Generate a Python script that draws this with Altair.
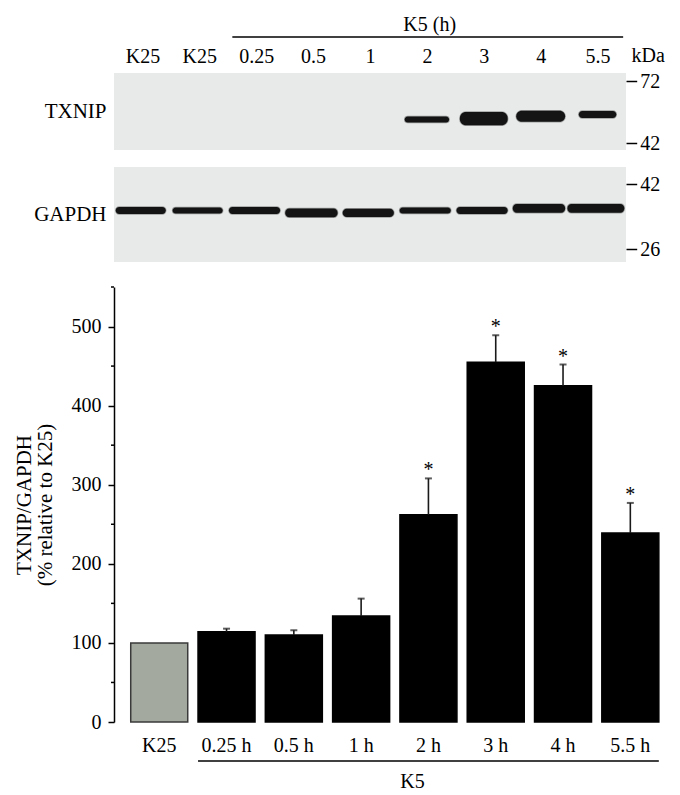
import json
import altair as alt
import pandas as pd

FONT = "Liberation Serif"

# ---------------- bar chart data ----------------
categories = ["K25", "0.25 h", "0.5 h", "1 h", "2 h", "3 h", "4 h", "5.5 h"]
groups = ["K25", "K5", "K5", "K5", "K5", "K5", "K5", "K5"]
means = [100, 114, 110, 134, 262, 455, 425, 239]
errors = [0, 4, 6, 22, 46, 34, 27, 38]
significant = [False, False, False, False, True, True, True, True]
y_ticks = [0, 100, 200, 300, 400, 500]
y_minor = [50, 150, 250, 350, 450, 550]

# ---------------- western blot data ----------------
lane_labels = ["K25", "K25", "0.25", "0.5", "1", "2", "3", "4", "5.5"]
txnip_markers = [72, 55, 42]
gapdh_markers = [42, 26]
txnip_lanes = [5, 6, 7, 8]
txnip_kda = [50.1, 50.4, 51.2, 51.8]
txnip_spread = [2.1, 4.5, 3.8, 2.4]
txnip_width = [0.78, 0.84, 0.86, 0.66]
gapdh_lanes = [0, 1, 2, 3, 4, 5, 6, 7, 8]
gapdh_kda = [35.6, 35.6, 35.6, 35.0, 35.0, 35.6, 35.6, 36.1, 36.1]
gapdh_spread = [1.7, 1.5, 1.7, 2.2, 2.0, 1.5, 1.7, 2.2, 2.2]
gapdh_width = [0.88, 0.88, 0.9, 0.92, 0.9, 0.9, 0.9, 0.92, 1.0]

W_BLOT = 512
H_TX = 77
H_GA = 105
W_BAR = 552
H_BAR = 435

PANEL = "#e7eae8"
BAND = "#141414"

xs = alt.Scale(domain=[0, 9], nice=False, zero=False)


def lane_axis():
    return alt.Axis(orient="top", values=[i + 0.5 for i in range(len(lane_labels))],
                    labelExpr=f"{json.dumps(lane_labels)}[floor(datum.value)]",
                    ticks=False, tickSize=0, domain=False, grid=False,
                    labelFont=FONT, labelFontSize=20, labelColor="black",
                    labelBaseline="middle", labelPadding=17,
                    labelFlush=False, labelOverlap=False, title="")


def marker_axis(values, name, h):
    return alt.Axis(orient="right", values=values, tickSize=10.7, tickWidth=1.5,
                    tickColor="black", domain=False, grid=False,
                    labelFont=FONT, labelFontSize=20, labelColor="black",
                    labelPadding=3, labelBaseline="middle", labelFlush=False,
                    labelOverlap=False,
                    title=name, titleAngle=0, titleAlign="right", titleBaseline="middle",
                    titleX=-(W_BLOT + 8), titleY=h / 2, titleFont=FONT,
                    titleFontSize=21, titleFontWeight="normal", titleColor="black")


# ---------- TXNIP blot ----------
tx_ys = alt.Scale(domain=[77.9, 72, 55, 42, 39.7], range=[0, 8.3, 32.3, 70, H_TX],
                  zero=False, nice=False)
tx_panel_df = pd.DataFrame({"x0": [0], "x1": [9], "top": [77.9], "bot": [39.7]})
tx_panel = alt.Chart(tx_panel_df).mark_rect(fill=PANEL).encode(
    x=alt.X("x0:Q", scale=xs, axis=lane_axis()),
    x2="x1:Q",
    y=alt.Y("top:Q", scale=tx_ys, axis=marker_axis(txnip_markers, "TXNIP", H_TX)),
    y2="bot:Q",
)
tx_df = pd.DataFrame({"lane": txnip_lanes, "kda": txnip_kda,
                      "spread": txnip_spread, "width": txnip_width})
tx_bands = alt.Chart(tx_df).transform_calculate(
    bx0="datum.lane + 0.5 - datum.width / 2", bx1="datum.lane + 0.5 + datum.width / 2",
    by0="datum.kda + datum.spread / 2", by1="datum.kda - datum.spread / 2",
).mark_rect(fill=BAND, stroke=BAND, strokeWidth=1.5, strokeOpacity=0.35,
            cornerRadius=6).encode(x="bx0:Q", x2="bx1:Q", y="by0:Q", y2="by1:Q")

hdr_text = alt.Chart(pd.DataFrame({"t": ["K5 (h)"]})).mark_text(
    font=FONT, fontSize=20, color="black", baseline="middle").encode(
    x=alt.datum(5.55), y=alt.value(-48.4), text="t:N")
hdr_rule = alt.Chart(pd.DataFrame({"t": [1]})).mark_rule(
    color="black", strokeWidth=1.5).encode(
    x=alt.datum(2.08), x2=alt.datum(8.95), y=alt.value(-36))
kda_text = alt.Chart(pd.DataFrame({"t": ["kDa"]})).mark_text(
    font=FONT, fontSize=20, color="black", baseline="middle").encode(
    x=alt.datum(9.39), y=alt.value(-16.7), text="t:N")

txnip_chart = alt.layer(tx_panel, tx_bands, hdr_rule, hdr_text, kda_text).properties(
    width=W_BLOT, height=H_TX)

# ---------- GAPDH blot ----------
ga_ys = alt.Scale(domain=[20.43, 46.3], zero=False, nice=False)
ga_panel_df = pd.DataFrame({"x0": [0], "x1": [9], "top": [46.3], "bot": [22.9]})
ga_panel = alt.Chart(ga_panel_df).mark_rect(fill=PANEL).encode(
    x=alt.X("x0:Q", scale=xs, axis=alt.Axis(labels=False, ticks=False, domain=False,
                                             grid=False, title="")),
    x2="x1:Q",
    y=alt.Y("top:Q", scale=ga_ys, axis=marker_axis(gapdh_markers, "GAPDH", 94.7)),
    y2="bot:Q",
)
ga_df = pd.DataFrame({"lane": gapdh_lanes, "kda": gapdh_kda,
                      "spread": gapdh_spread, "width": gapdh_width})
ga_bands = alt.Chart(ga_df).transform_calculate(
    bx0="datum.lane + 0.47 - datum.width / 2", bx1="datum.lane + 0.47 + datum.width / 2",
    by0="datum.kda + datum.spread / 2", by1="datum.kda - datum.spread / 2",
).mark_rect(fill=BAND, stroke=BAND, strokeWidth=1.5, strokeOpacity=0.35,
            cornerRadius=4).encode(x="bx0:Q", x2="bx1:Q", y="by0:Q", y2="by1:Q")

gapdh_chart = alt.layer(ga_panel, ga_bands).properties(width=W_BLOT, height=H_GA)

# ---------- bar chart ----------
bar_df = pd.DataFrame({"cat": categories, "group": groups, "mean": means,
                       "err": errors, "sig": significant})

x_bar = alt.X("cat:N", sort=categories,
              scale=alt.Scale(domain=categories, paddingInner=0.153,
                              paddingOuter=0.1776, align=0.7),
              axis=alt.Axis(ticks=False, domain=False, grid=False, labelAngle=0,
                            labelFont=FONT, labelFontSize=20, labelColor="black",
                            labelBaseline="middle", labelPadding=23, title=""))
y_title = ["TXNIP/GAPDH", "(% relative to K25)"]
y_bar = alt.Y("mean:Q", scale=alt.Scale(domain=[0, 550], nice=False, zero=True),
              axis=alt.Axis(values=y_ticks, tickSize=6, tickWidth=1.5, tickColor="black",
                            domainWidth=1.5, domainColor="black", grid=False,
                            labelFont=FONT, labelFontSize=20, labelColor="black",
                            labelPadding=7, title=y_title, titleFont=FONT,
                            titleFontSize=21, titleFontWeight="normal",
                            titleColor="black", titlePadding=16, titleLineHeight=21))

bars = alt.Chart(bar_df).mark_bar(strokeWidth=1.5).encode(
    x=x_bar, y=y_bar,
    color=alt.Color("group:N", scale=alt.Scale(domain=["K25", "K5"],
                                               range=["#a3a99e", "#000000"]), legend=None),
    stroke=alt.Stroke("group:N", scale=alt.Scale(domain=["K25", "K5"],
                                                 range=["#3a3a3a", "#000000"]), legend=None),
)
base_err = alt.Chart(bar_df).transform_filter("datum.err > 0").transform_calculate(
    top="datum.mean + datum.err")
err_rule = base_err.mark_rule(color="#1a1a1a", strokeWidth=1.6).encode(
    x="cat:N", y=alt.Y("mean:Q", title=y_title), y2="top:Q")
err_cap = base_err.mark_tick(color="#1a1a1a", thickness=2, size=7,
                             orient="horizontal").encode(
    x="cat:N", y=alt.Y("top:Q", title=y_title))
stars = alt.Chart(bar_df).transform_filter("datum.sig").transform_calculate(
    top="datum.mean + datum.err").mark_text(
    text="*", font=FONT, fontSize=20, color="black", baseline="alphabetic", dy=-2).encode(
    x="cat:N", y=alt.Y("top:Q", title=y_title))
minor = alt.Chart(pd.DataFrame({"v": y_minor})).mark_rule(
    color="black", strokeWidth=1.5).encode(
    y=alt.Y("v:Q", title=y_title), x=alt.value(-3), x2=alt.value(0))
bracket = alt.Chart(pd.DataFrame({"a": ["0.25 h"], "b": ["5.5 h"]})).mark_rule(
    color="black", strokeWidth=1.5).encode(
    x=alt.X("a:N", bandPosition=0), x2=alt.X2("b:N", bandPosition=1),
    y=alt.value(H_BAR + 39))
k5_text = alt.Chart(pd.DataFrame({"c": ["2 h"], "t": ["K5"]})).mark_text(
    font=FONT, fontSize=20, color="black", baseline="middle", dx=-16).encode(
    x="c:N", y=alt.value(H_BAR + 60), text="t:N")

bar_chart = alt.layer(bars, err_rule, err_cap, stars, minor, bracket, k5_text).properties(
    width=W_BAR, height=H_BAR)

chart = alt.vconcat(txnip_chart, gapdh_chart, bar_chart, spacing=14).properties(
    padding={"left": 5, "top": 6, "right": 0, "bottom": 0},
    background="white",
).configure(
    font=FONT,
    view=alt.ViewConfig(stroke="transparent", strokeWidth=0),
)

chart.save("out.html", embed_options={"renderer": "svg", "actions": False})
